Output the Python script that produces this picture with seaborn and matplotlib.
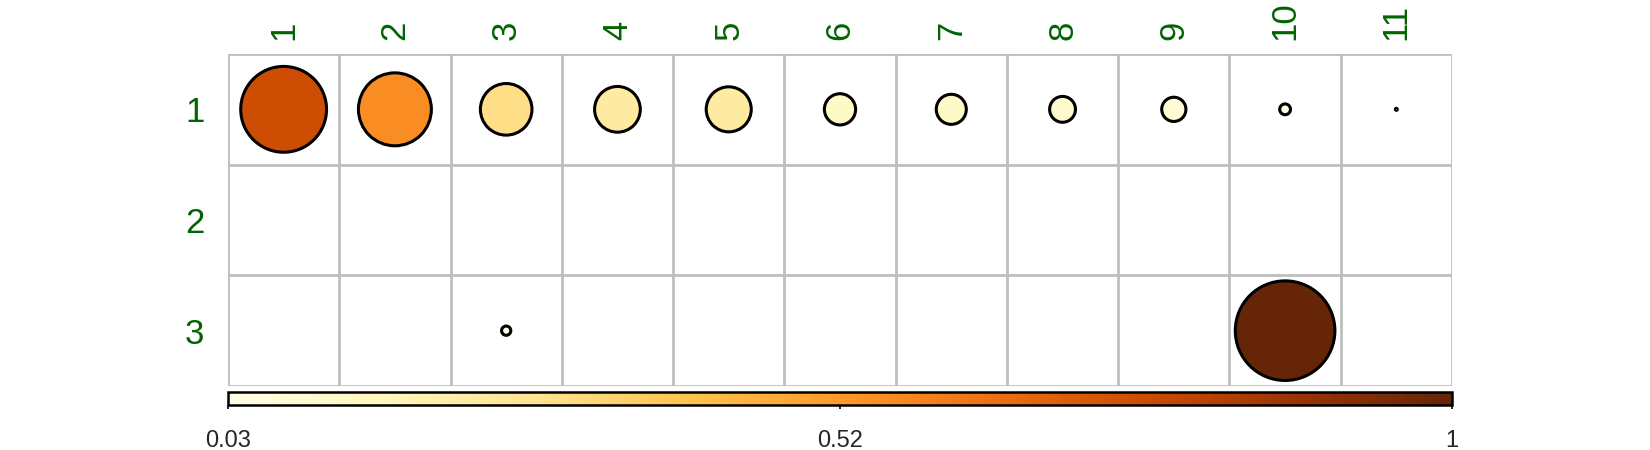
import numpy as np
import pandas as pd
import matplotlib
matplotlib.use("Agg")
import matplotlib.pyplot as plt
import seaborn as sns

# labels of the grid
col_labels = [str(i) for i in range(1, 12)]
row_labels = ["1", "2", "3"]

# values (colour bar runs 0.03 .. 1)
row1_cols = list(range(1, 12))
row1_vals = [0.75, 0.55, 0.29, 0.234, 0.228, 0.125, 0.118, 0.095, 0.087, 0.041, 0.03]
row3_cols = [3, 10]
row3_vals = [0.038, 1.0]
lim_lo, lim_hi = 0.03, 1.0
# bar ticks sit at min, middle, max (middle printed rounded)
cbar_ticks = [0.03, 0.515, 1.0]
cbar_labels = ["0.03", "0.52", "1"]

df = pd.DataFrame({
    "col": row1_cols + row3_cols,
    "row": [1] * len(row1_cols) + [3] * len(row3_cols),
    "value": row1_vals + row3_vals,
})

sns.set_style("white")
plt.rcParams["font.family"] = ["Liberation Sans", "DejaVu Sans"]

W, H = 1650, 450
fig = plt.figure(figsize=(W / 100, H / 100), dpi=100)
left, right, top, bottom = 228, 1452, 54, 386
ax = fig.add_axes([left / W, 1 - bottom / H, (right - left) / W, (bottom - top) / H])

# biggest circle = 0.9 of a cell (corrplot style), area linear in scaled value
cell_px = (bottom - top) / len(row_labels)
max_diam_pt = 0.9 * cell_px * 72 / 100
max_area = max_diam_pt ** 2

sns.scatterplot(data=df, x="col", y="row", hue="value", palette="YlOrBr",
                hue_norm=(lim_lo, lim_hi), size="value", sizes=(2, max_area),
                size_norm=(lim_lo, lim_hi), edgecolor="black", linewidth=2.2,
                legend=False, ax=ax, zorder=3, clip_on=False)

ax.set_xlim(0.5, len(col_labels) + 0.5)
ax.set_ylim(len(row_labels) + 0.5, 0.5)
ax.set_xticks(range(1, len(col_labels) + 1))
ax.set_xticklabels(col_labels, rotation=90)
ax.set_yticks(range(1, len(row_labels) + 1))
ax.set_yticklabels(row_labels)
ax.xaxis.tick_top()
ax.tick_params(axis="x", length=0, pad=10, labelsize=25, labelcolor="#006400")
ax.tick_params(axis="y", length=0, pad=17, labelsize=25, labelcolor="#006400")
ax.set_xticks(np.arange(0.5, len(col_labels) + 1), minor=True)
ax.set_yticks(np.arange(0.5, len(row_labels) + 1), minor=True)
ax.tick_params(which="minor", length=0)
ax.grid(which="minor", color="#BEBEBE", linewidth=2)
ax.grid(which="major", visible=False)
ax.set_xlabel("")
ax.set_ylabel("")
for sp in ax.spines.values():
    sp.set_visible(False)

# colour bar under the grid
cax = fig.add_axes([left / W, 1 - 405 / H, (right - left) / W, 13 / H])
sm = plt.cm.ScalarMappable(cmap="YlOrBr", norm=plt.Normalize(lim_lo, lim_hi))
cb = fig.colorbar(sm, cax=cax, orientation="horizontal", ticks=cbar_ticks)
cb.ax.set_xticklabels(cbar_labels)
cb.outline.set_linewidth(1.8)
cb.outline.set_edgecolor("black")
cb.ax.tick_params(length=3, width=1.2, pad=15, labelsize=17, color="black")

fig.savefig("out.png", dpi=100)
